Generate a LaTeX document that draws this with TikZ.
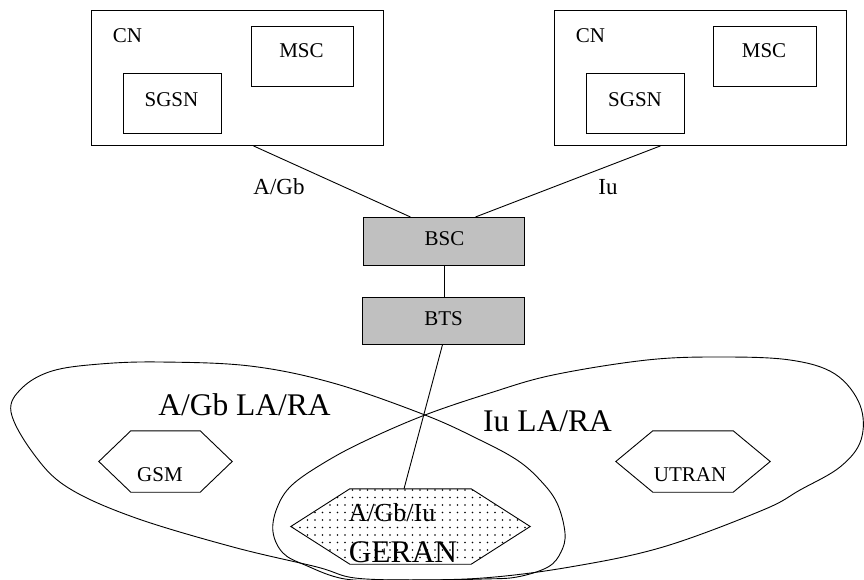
\documentclass[tikz,border=0pt]{standalone}
\usepackage{fontspec}
\setmainfont{Liberation Serif}
\usetikzlibrary{calc,patterns.meta}
\definecolor{boxgray}{HTML}{C0C0C0}
\begin{document}
\begin{tikzpicture}[x=1pt,y=-1pt,
  box/.style={draw, line width=0.9pt, inner sep=0, anchor=north west},
  graybox/.style={box, fill=boxgray},
  conn/.style={line width=0.9pt},
  hex/.style={line width=0.9pt},
  area/.style={line width=0.9pt},
  hexholder/.style={inner sep=0, draw=none},
  lbl/.style={inner sep=0, anchor=base, font=\fontsize{21}{24}\selectfont},
  ifl/.style={inner sep=0, anchor=base, font=\fontsize{23}{26}\selectfont},
  midl/.style={inner sep=0, anchor=base, font=\fontsize{26}{29}\selectfont},
  bigl/.style={inner sep=0, anchor=base, font=\fontsize{31.5}{34}\selectfont}
]
\useasboundingbox (0,0) rectangle (864,580);

% location / routing areas
\draw[area] plot[smooth cycle, tension=0.6] coordinates {
  (11,412) (22,388) (52,371) (100,364) (160,362) (250,366) (333,383) (425,415)
  (480,440) (517,460) (540,480) (557,503) (565,533) (561,552) (548,567)
  (517,577) (483,579) (420,580) (355,578) (317,567) (233,547) (133,517)
  (67,487) (33,453)};
\draw[area] plot[smooth cycle, tension=0.6] coordinates {
  (425,415) (490,393) (553,375) (647,360) (720,357) (790,360) (835,374)
  (860,405) (861,440) (840,467) (800,490) (763,510) (663,547) (570,567)
  (483,578) (400,580) (345,579) (305,565) (283,553) (273,532) (277,508)
  (292,485) (327,461) (367,440)};

% core network boxes
\node[box, minimum width=292, minimum height=135] (cnl) at (91,10) {};
\node[box, minimum width=102, minimum height=60] (mscl) at (251,26) {};
\node[box, minimum width=98, minimum height=60] (sgsnl) at (123,73) {};
\node[box, minimum width=292, minimum height=135] (cnr) at (554,10) {};
\node[box, minimum width=103, minimum height=60] (mscr) at (713,26) {};
\node[box, minimum width=98, minimum height=60] (sgsnr) at (586,73) {};

\node[lbl] (cnlt) at (127.5,43) {CN};
\node[lbl] (msclt) at (301.5,58) {MSC};
\node[lbl] (sgsnlt) at (171.5,107) {SGSN};
\node[lbl] (cnrt) at (590.5,43) {CN};
\node[lbl] (mscrt) at (764,58) {MSC};
\node[lbl] (sgsnrt) at (635,107) {SGSN};

% BSC / BTS
\node[graybox, minimum width=161, minimum height=48] (bsc) at (363,217) {};
\node[graybox, minimum width=162, minimum height=47] (bts) at (362,297) {};
\node[lbl] (bsct) at (444.5,245) {BSC};
\node[lbl] (btst) at (443.5,325) {BTS};

% interface labels
\node[ifl] (agb) at (279,195) {A/Gb};
\node[ifl] (iu) at (608,195) {Iu};

% hexagons
\node[hexholder, minimum width=133, minimum height=61] (gsm) at (165.5,461.5) {};
\draw[hex] (gsm.west) -- ($(gsm.north west)+(32,0)$) -- ($(gsm.north east)+(-32,0)$)
  -- (gsm.east) -- ($(gsm.south east)+(-32,0)$) -- ($(gsm.south west)+(32,0)$) -- cycle;
\node[hexholder, minimum width=154, minimum height=61] (utran) at (693,461.5) {};
\draw[hex] (utran.west) -- ($(utran.north west)+(37,0)$) -- ($(utran.north east)+(-37,0)$)
  -- (utran.east) -- ($(utran.south east)+(-37,0)$) -- ($(utran.south west)+(37,0)$) -- cycle;
\node[hexholder, minimum width=239, minimum height=75] (geran) at (410.5,526.5) {};
\draw[hex, pattern={Dots[distance=7.5pt,radius=0.8pt]}]
  (geran.west) -- ($(geran.north west)+(59,0)$) -- ($(geran.north east)+(-59,0)$)
  -- (geran.east) -- ($(geran.south east)+(-59,0)$) -- ($(geran.south west)+(59,0)$) -- cycle;

\node[lbl] (gsmt) at (160,481) {GSM};
\node[lbl] (utrant) at (690,481) {UTRAN};
\node[midl] (agbiut) at (392,521) {A/Gb/Iu};
\node[bigl] (gerant) at (403,562) {GERAN};
\node[bigl] (agbla) at (244.5,415) {A/Gb LA/RA};
\node[bigl] (iula) at (547.5,431) {Iu LA/RA};

% connectors
\draw[conn] ($(cnl.south)+(16,0)$) -- ($(bsc.north)+(-33.5,0)$);
\draw[conn] ($(cnr.south)+(-40,0)$) -- ($(bsc.north)+(31.5,0)$);
\draw[conn] (bsc.south) -- (bsc.south |- bts.north);
\draw[conn] ($(bts.south)+(-1,0)$) -- ($(geran.north)+(-6.5,0)$);
\end{tikzpicture}
\end{document}
